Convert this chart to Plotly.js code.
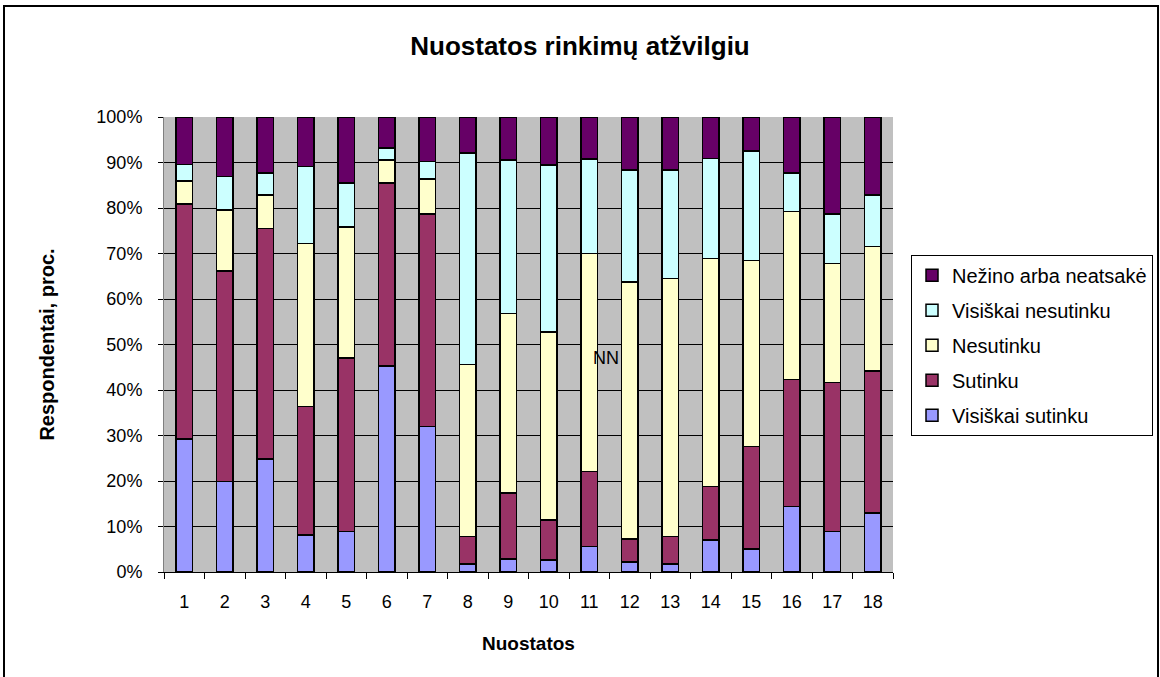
<!DOCTYPE html>
<html>
<head>
<meta charset="utf-8">
<script src="https://cdn.plot.ly/plotly-3.0.1.min.js"></script>
<style>
html,body{margin:0;padding:0;background:#fff;}
#chart{position:absolute;left:0;top:0;width:1160px;height:677px;}
#frame{position:absolute;left:3px;top:5px;width:1152px;height:700px;border:2px solid #000;border-bottom:none;pointer-events:none;}
</style>
</head>
<body>
<div id="chart"></div>
<div id="frame"></div>
<script>
const categories = ["1","2","3","4","5","6","7","8","9","10","11","12","13","14","15","16","17","18"];
const visiskaiSutinku   = [29.2,19.9,24.8, 8.1, 8.9,45.3,32.0, 1.8, 2.9, 2.6, 5.6, 2.2, 1.8, 7.0, 5.1,14.4, 8.9,13.0];
const sutinku           = [51.7,46.3,50.7,28.3,38.1,40.2,46.7, 6.0,14.5, 8.8,16.5, 5.1, 6.0,11.8,22.5,27.9,32.8,31.2];
const nesutinku         = [ 5.0,13.4, 7.4,35.8,28.8, 5.0, 7.7,37.8,39.4,41.3,47.9,56.4,56.7,50.1,40.9,36.9,26.1,27.3];
const visiskaiNesutinku = [ 3.7, 7.3, 4.8,16.9, 9.7, 2.7, 3.8,46.5,33.7,36.8,20.8,24.7,23.8,22.0,24.0, 8.5,10.9,11.4];
const nezino            = [10.4,13.1,12.3,10.9,14.5, 6.8, 9.8, 7.9, 9.5,10.5, 9.2,11.6,11.7, 9.1, 7.5,12.3,21.3,17.1];
const seriesNames = ["Visiškai sutinku","Sutinku","Nesutinku","Visiškai nesutinku","Nežino arba neatsakė"];
const seriesValues = [visiskaiSutinku, sutinku, nesutinku, visiskaiNesutinku, nezino];
const seriesColors = ["#9999FF","#993366","#FFFFCC","#CCFFFF","#660066"];
const yTickVals = [0,10,20,30,40,50,60,70,80,90,100];
const yTickText = yTickVals.map(v => v + "%");

const font = "Arial, 'Liberation Sans', sans-serif";

const traces = seriesNames.map((name, i) => ({
  type: "bar",
  name: name,
  x: categories,
  y: seriesValues[i],
  legendgroup: "g" + i,
  legendrank: 1000 - i,
  marker: {color: seriesColors[i], line: {color: "#000", width: 1.5}},
  hoverinfo: "x+y+name"
}));

const layout = {
  width: 1160, height: 677,
  paper_bgcolor: "rgba(0,0,0,0)",
  plot_bgcolor: "#C0C0C0",
  barmode: "stack",
  bargap: 0.59,
  margin: {l: 164, r: 267, t: 117, b: 105, autoexpand: false},
  font: {family: font, size: 18, color: "#000"},
  title: {text: "<b>Nuostatos rinkimų atžvilgiu</b>", font: {family: font, size: 26, color: "#000"}, x: 0.5, xanchor: "center", y: 0.932, yanchor: "middle"},
  xaxis: {
    type: "category",
    tickson: "boundaries",
    ticks: "outside", ticklen: 6, tickcolor: "#000",
    showgrid: false,
    showline: true, linecolor: "#000", linewidth: 1,
    ticklabelstandoff: 13,
    tickfont: {family: font, size: 18},
    title: {text: "<b>Nuostatos</b>", font: {family: font, size: 19}, standoff: 26}
  },
  yaxis: {
    range: [0, 100],
    tickvals: yTickVals, ticktext: yTickText,
    ticks: "outside", ticklen: 5, tickcolor: "#000",
    showgrid: true, gridcolor: "#000", gridwidth: 1,
    showline: true, linecolor: "#808080", linewidth: 1,
    zeroline: false,
    ticklabelstandoff: 12,
    tickfont: {family: font, size: 18},
    title: {text: "<b>Respondentai, proc.</b>", font: {family: font, size: 20}, standoff: 36}
  },
  legend: {
    x: 1.0247, xanchor: "left",
    y: 0.697, yanchor: "top",
    traceorder: "grouped",
    tracegroupgap: 6,
    itemwidth: 30,
    bordercolor: "#000", borderwidth: 1,
    bgcolor: "#fff",
    font: {family: font, size: 20}
  },
  annotations: [{
    text: "NN", xref: "x", yref: "y", x: 10.41, y: 47,
    showarrow: false, font: {family: font, size: 18, color: "#000"}
  }]
};

Plotly.newPlot("chart", traces, layout, {displayModeBar: false, staticPlot: true});
</script>
</body>
</html>
